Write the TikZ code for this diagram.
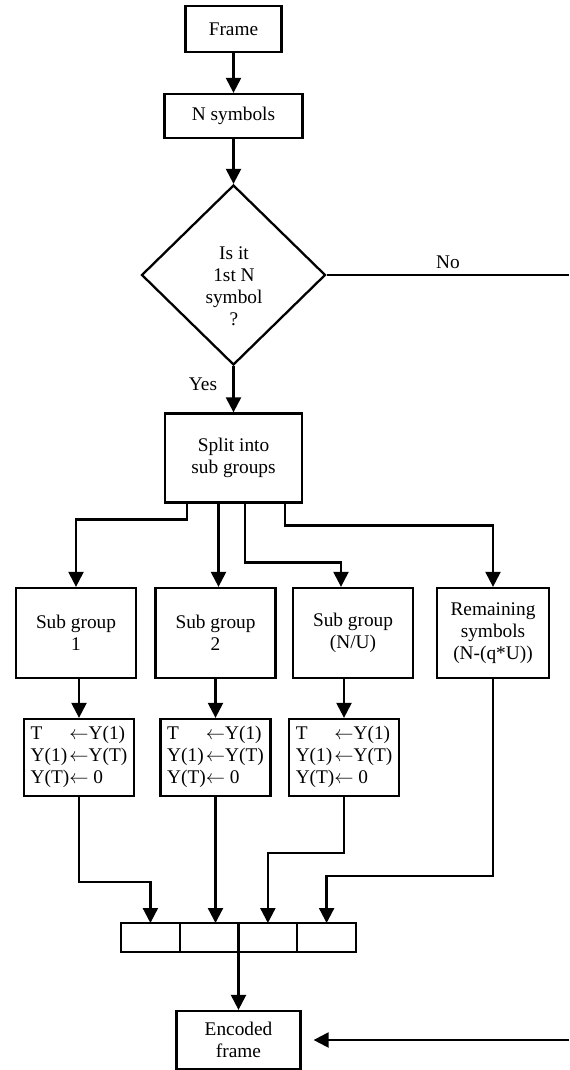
\documentclass[tikz,border=0pt]{standalone}
\usepackage{fontspec}
\setmainfont{Liberation Serif}
\usetikzlibrary{arrows.meta,positioning,shapes.geometric,calc}
\newcommand{\flowfont}{\fontsize{11}{12.5}\selectfont}

\begin{document}
\begin{tikzpicture}[x=0.02cm,y=-0.02cm,>={Triangle[length=8.5pt,width=8.5pt]},
    blk/.style={draw,line width=1.3pt,inner sep=0pt,align=center,font=\flowfont},
    grp/.style={blk,minimum width=2.4cm,minimum height=1.8cm},
    upd/.style={blk,minimum width=2.2cm,minimum height=1.54cm},
    slot/.style={draw,line width=1.3pt,outer sep=0pt,minimum width=1.175cm,minimum height=0.58cm},
    decision/.style={draw,diamond,line width=1.3pt,minimum width=3.68cm,minimum height=3.6cm},
    lbl/.style={font=\flowfont},
    arr/.style={->,line width=1.3pt},
    wire/.style={line width=1.3pt}]
    \useasboundingbox (0,0) rectangle (569,1070);

    % top of the chart
    \node[blk,minimum width=1.92cm,minimum height=0.92cm] (frame) at (233.5,29) {Frame};
    \node[blk,minimum width=2.76cm,minimum height=0.88cm] (nsym) at (233.5,116) {N symbols};
    \node[decision] (dec) at (233.5,275) {};
    \node[lbl,align=center] (dectxt) at (234,286) {Is it\\1st N\\symbol\\?};
    \node[blk,minimum width=2.74cm,minimum height=1.78cm] (split) at (233.5,458) {Split into\\sub groups};
    \draw[arr] (frame) -- (nsym);
    \draw[arr] (nsym) -- (dec);
    \draw[arr] (dec) -- (split);
    \node[lbl] (yes) at (203,384) {Yes};
    \node[lbl] (no) at (448,262) {No};
    \coordinate (edgeT) at (569,275);
    \draw[wire] (dec.east) -- (edgeT);

    % sub groups
    \node[grp] (sub1) at (76,633) {Sub group\\1};
    \node[grp] (sub2) at (215.5,633) {Sub group\\2};
    \node[grp] (sub3) at (353,633) {Sub group\\(N/U)};
    \node[grp,minimum width=2.24cm] (rem) at (493,633) {Remaining\\symbols\\(N-(q*U))};
    \coordinate (s1) at ($(split.south)+(-46.5,0)$);
    \coordinate (s2) at ($(split.south)+(-15,0)$);
    \coordinate (s3) at ($(split.south)+(11.5,0)$);
    \coordinate (s4) at ($(split.south)+(51.5,0)$);
    \draw[arr] (s1) -- ++(0,16) -| (sub1.north);
    \draw[arr] (s2) -- (s2 |- sub2.north);
    \draw[arr] (s3) -- ++(0,59) -| ($(sub3.north)+(-12,0)$);
    \draw[arr] (s4) -- ++(0,22) -| (rem.north);

    % swap steps
    \node[upd] (low1) at (79,757.5) {\begin{tabular}{@{}l@{}l@{}}T&$\leftarrow$Y(1)\\Y(1)&$\leftarrow$Y(T)\\Y(T)&$\leftarrow$ 0\end{tabular}};
    \node[upd] (low2) at (215.5,757.5) {\begin{tabular}{@{}l@{}l@{}}T&$\leftarrow$Y(1)\\Y(1)&$\leftarrow$Y(T)\\Y(T)&$\leftarrow$ 0\end{tabular}};
    \node[upd] (low3) at (344,757.5) {\begin{tabular}{@{}l@{}l@{}}T&$\leftarrow$Y(1)\\Y(1)&$\leftarrow$Y(T)\\Y(T)&$\leftarrow$ 0\end{tabular}};
    \draw[arr] (low1.north |- sub1.south) -- (low1.north);
    \draw[arr] (low2.north |- sub2.south) -- (low2.north);
    \draw[arr] (low3.north |- sub3.south) -- (low3.north);

    % output slots
    \node[slot] (c1) at (150.4,937.5) {};
    \node[slot,right=0pt of c1] (c2) {};
    \node[slot,right=0pt of c2] (c3) {};
    \node[slot,right=0pt of c3] (c4) {};
    \draw[arr] (low1.south) -- ++(0,85) -| (c1.north);
    \draw[arr] (low2.south) -- (low2.south |- c2.north);
    \draw[arr] (low3.south) -- ++(0,56) -| (c3.north);
    \draw[arr] (rem.south) -- ++(0,197) -| (c4.north);

    % encoded frame
    \node[blk,minimum width=2.48cm,minimum height=1.16cm] (enc) at (238.5,1040) {Encoded\\frame};
    \draw[arr] (c2.south east) -- (c2.south east |- enc.north);
    \coordinate (edgeB) at (569,1040);
    \draw[arr,shorten >=0.24cm] (edgeB) -- (enc.east);
\end{tikzpicture}
\end{document}
